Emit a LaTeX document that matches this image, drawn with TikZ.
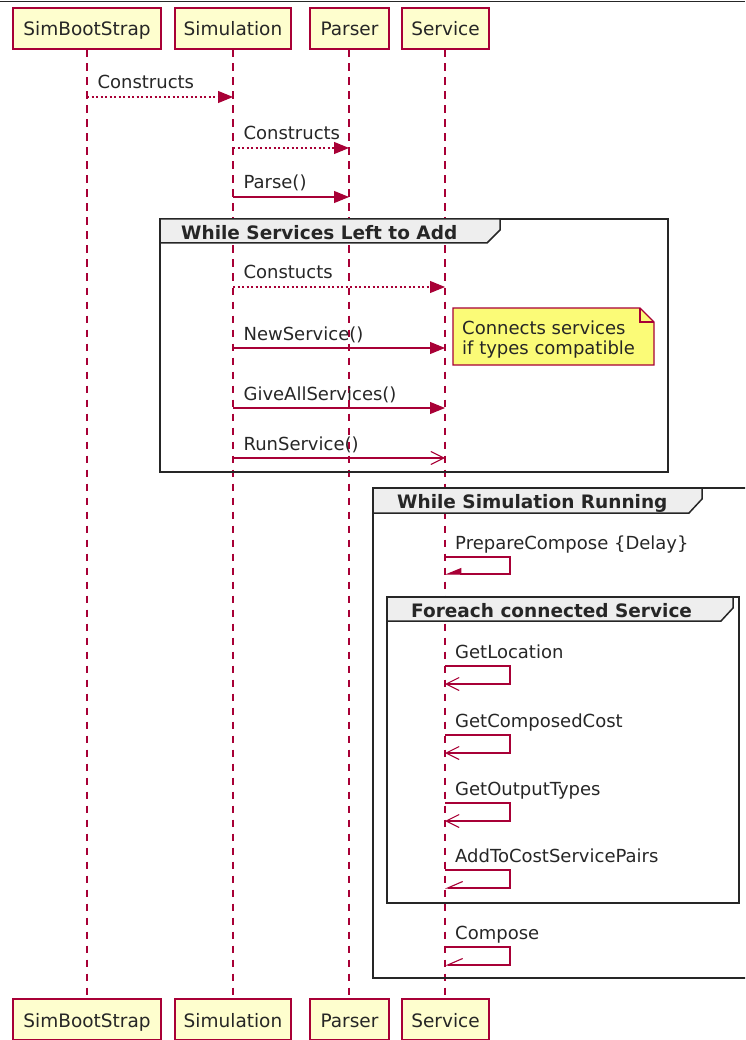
\documentclass[tikz,border=0pt]{standalone}
\usepackage{fontspec}
\setmainfont{DejaVu Sans}
\usetikzlibrary{arrows.meta}
\definecolor{umlred}{HTML}{A80036}
\definecolor{partfill}{HTML}{FEFECE}
\definecolor{tabfill}{HTML}{EEEEEE}
\definecolor{notefill}{HTML}{FBFB77}
\tikzset{
  txt/.style={font=\fontsize{18}{20}\selectfont, text=black!85, inner sep=0pt},
  part/.style={draw=umlred, fill=partfill, line width=1.3pt, minimum height=41pt,
    font=\fontsize{18.5}{20}\selectfont, text=black!85, text height=15pt, text depth=0pt, inner sep=0pt},
  lifeline/.style={draw=umlred, line width=1.2pt, dash pattern=on 7.5pt off 6.5pt},
  msg/.style={draw=umlred, line width=1.1pt},
  dotmsg/.style={msg, dash pattern=on 2.2pt off 2.3pt},
  filled/.style={-{Triangle[length=15pt,width=12pt,fill=umlred]}},
  openarr/.style={-{Straight Barb[length=13pt,width=13pt,line width=1.1pt]}},
  halffilled/.style={-{Triangle[length=15pt,width=12pt,right,fill=umlred]}},
  halfopen/.style={-{Straight Barb[length=15pt,width=13pt,right,line width=1.1pt]}},
  lbl/.style={txt, anchor=base west, xshift=10pt, yshift=8pt},
  frame/.style={draw=black!85, line width=2pt},
  tab/.style={draw=black!85, fill=tabfill, line width=1.5pt},
  grouptitle/.style={font=\bfseries\fontsize{18.5}{20}\selectfont, text=black!85, inner sep=0pt, anchor=base west},
}
\begin{document}
\begin{tikzpicture}[x=1pt,y=-1pt]
\useasboundingbox (0,0) rectangle (745,1040);
\clip (0,0) rectangle (745,1040);

% top rule
\draw[line width=1.4pt, black!85] (0,1.4) -- (745,1.4);

% participants, top and bottom
\node[part, minimum width=148pt] (sbT)  at (87,28.5)    {SimBootStrap};
\node[part, minimum width=116pt] (simT) at (233,28.5)   {Simulation};
\node[part, minimum width=79pt]  (parT) at (349.5,28.5) {Parser};
\node[part, minimum width=87pt]  (svcT) at (445.5,28.5) {Service};
\node[part, minimum width=148pt] (sbB)  at (87,1019.5)    {SimBootStrap};
\node[part, minimum width=116pt] (simB) at (233,1019.5)   {Simulation};
\node[part, minimum width=79pt]  (parB) at (349.5,1019.5) {Parser};
\node[part, minimum width=87pt]  (svcB) at (445.5,1019.5) {Service};

% lifelines
\draw[lifeline] (87,49.5) -- (87,998.5);
\draw[lifeline] (233,49.5) -- (233,998.5);
\draw[lifeline] (349,49.5) -- (349,998.5);
\draw[lifeline] (445,49.5) -- (445,998.5);

% group: While Services Left to Add
\draw[frame] (160,219) rectangle (668,472);
\draw[tab] (160,219) -- (500,219) -- (500,230) -- (487,243) -- (160,243) -- cycle;
\node[grouptitle] (g1) at (181,240) {While Services Left to Add};

% group: While Simulation Running
\draw[frame] (373,488) rectangle (770,978);
\draw[tab] (373,488) -- (702,488) -- (702,499) -- (689,513) -- (373,513) -- cycle;
\node[grouptitle] (g2) at (397,508) {While Simulation Running};

% group: Foreach connected Service
\draw[frame] (387,597) rectangle (739,903);
\draw[tab] (387,597) -- (733,597) -- (733,608) -- (721,621) -- (387,621) -- cycle;
\node[grouptitle] (g3) at (411,617) {Foreach connected Service};

% message end points on the lifelines
\coordinate (m1a) at (87,97);   \coordinate (m1b) at (233,97);
\coordinate (m2a) at (233,148); \coordinate (m2b) at (349,148);
\coordinate (m3a) at (233,197); \coordinate (m3b) at (349,197);
\coordinate (m4a) at (233,287); \coordinate (m4b) at (445,287);
\coordinate (m5a) at (233,348); \coordinate (m5b) at (445,348);
\coordinate (m6a) at (233,408); \coordinate (m6b) at (445,408);
\coordinate (m7a) at (233,458); \coordinate (m7b) at (445,458);

\draw[dotmsg, filled] (m1a) -- (m1b) node[lbl, at start] {Constructs};
\draw[dotmsg, filled] (m2a) -- (m2b) node[lbl, at start] {Constructs};
\draw[msg, filled] (m3a) -- (m3b) node[lbl, at start] {Parse()};
\draw[dotmsg, filled] (m4a) -- (m4b) node[lbl, at start] {Constucts};
\draw[msg, filled] (m5a) -- (m5b) node[lbl, at start] {NewService()};
\draw[msg, filled] (m6a) -- (m6b) node[lbl, at start] {GiveAllServices()};
\draw[msg, openarr] (m7a) -- (m7b) node[lbl, at start] {RunService()};

% note beside NewService()
\draw[draw=umlred, fill=notefill, line width=1.2pt]
  (453,308) -- (640,308) -- (654,322) -- (654,365) -- (453,365) -- cycle;
\draw[draw=umlred, line width=1.2pt] (640,308) -- (640,322) -- (654,322);
\node[txt, anchor=base west] (note1) at (462,334) {Connects services};
\node[txt, anchor=base west] (note2) at (462,354) {if types compatible};

% self messages on Service
\coordinate (s1) at (445,557); \coordinate (s1e) at (445,574);
\coordinate (s2) at (445,666); \coordinate (s2e) at (445,684);
\coordinate (s3) at (445,735); \coordinate (s3e) at (445,753);
\coordinate (s4) at (445,803); \coordinate (s4e) at (445,821);
\coordinate (s5) at (445,870); \coordinate (s5e) at (445,888);
\coordinate (s6) at (445,947); \coordinate (s6e) at (445,965);

\draw[msg, halffilled] (s1) -- ++(65,0) |- (s1e);
\node[lbl] at (s1) {PrepareCompose \{Delay\}};
\draw[msg, openarr] (s2) -- ++(65,0) |- (s2e);
\node[lbl] at (s2) {GetLocation};
\draw[msg, openarr] (s3) -- ++(65,0) |- (s3e);
\node[lbl] at (s3) {GetComposedCost};
\draw[msg, openarr] (s4) -- ++(65,0) |- (s4e);
\node[lbl] at (s4) {GetOutputTypes};
\draw[msg, halfopen] (s5) -- ++(65,0) |- (s5e);
\node[lbl] at (s5) {AddToCostServicePairs};
\draw[msg, halfopen] (s6) -- ++(65,0) |- (s6e);
\node[lbl] at (s6) {Compose};
\end{tikzpicture}
\end{document}
